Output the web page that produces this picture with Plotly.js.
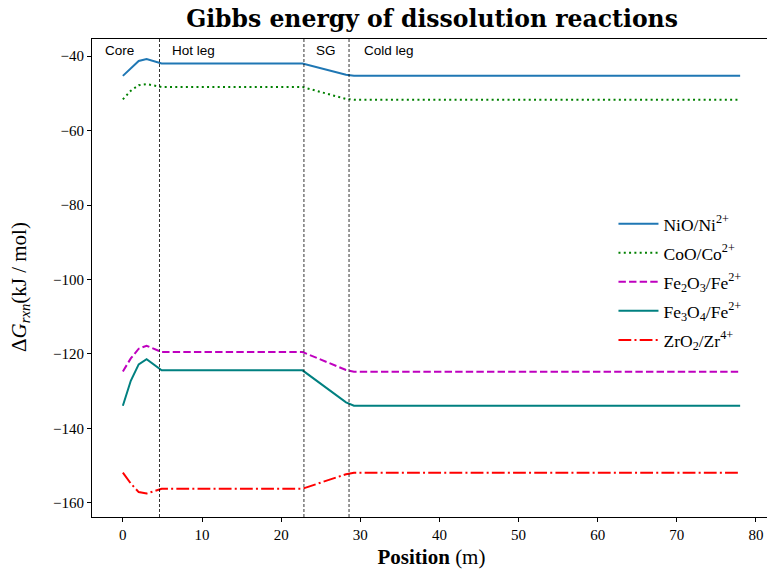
<!DOCTYPE html>
<html><head><meta charset="utf-8">
<script src="https://cdn.plot.ly/plotly-3.0.1.min.js"></script>
<style>html,body{margin:0;padding:0;background:#fff;overflow:hidden}#chart{width:772px;height:571px}</style>
</head><body><div id="chart"></div>
<script>
const positions = [0, 1, 2, 3, 4.9, 22.7, 28.2, 29.2, 78];
const nio   = [-45.3, -43.2, -41.3, -40.8, -42.0, -42.0, -45.0, -45.3, -45.3];
const coo   = [-51.6, -49.3, -47.8, -47.5, -48.3, -48.3, -51.5, -51.7, -51.7];
const fe2o3 = [-124.7, -121.2, -118.6, -117.8, -119.5, -119.5, -124.3, -124.8, -124.8];
const fe3o4 = [-133.9, -127.2, -122.8, -121.4, -124.4, -124.4, -133.0, -133.9, -133.9];
const zro2  = [-151.9, -154.8, -157.1, -157.5, -156.2, -156.2, -152.3, -151.9, -151.9];
const seriesNames = ['NiO/Ni<sup>2+</sup>', 'CoO/Co<sup>2+</sup>', 'Fe<sub>2</sub>O<sub>3</sub>/Fe<sup>2+</sup>', 'Fe<sub>3</sub>O<sub>4</sub>/Fe<sup>2+</sup>', 'ZrO<sub>2</sub>/Zr<sup>4+</sup>'];
const regionBounds = [4.63, 22.88, 28.58];
const regionLabels = ['Core', 'Hot leg', 'SG', 'Cold leg'];
const regionLabelX = [-2.5, 6.0, 24.1, 30.2];
const xTicks = [0, 10, 20, 30, 40, 50, 60, 70, 80];
const yTicks = [-40, -60, -80, -100, -120, -140, -160];

const serif = 'Liberation Serif, Times New Roman, serif';
const styles = [
  {color: '#1f77b4', dash: 'solid'},
  {color: '#008000', dash: '2px,3.3px'},
  {color: '#bf00bf', dash: '7.4px,3.2px'},
  {color: '#008080', dash: 'solid'},
  {color: '#ff0000', dash: '12.8px,3.2px,2px,3.2px'}
];
const ys = [nio, coo, fe2o3, fe3o4, zro2];
const traces = ys.map((y, i) => ({
  x: positions, y: y, type: 'scatter', mode: 'lines', name: seriesNames[i], legendgroup: 'g' + i,
  line: {color: styles[i].color, dash: styles[i].dash, width: 2}
}));

const shapes = regionBounds.map(b => ({
  type: 'line', xref: 'x', yref: 'paper', x0: b, x1: b, y0: 0, y1: 1,
  line: {color: '#000', width: 0.8, dash: '3px,2px'}
}));
const annotations = regionLabels.map((t, i) => ({
  text: t, xref: 'x', yref: 'paper', x: regionLabelX[i], y: 0.975,
  xanchor: 'left', yanchor: 'middle', showarrow: false,
  font: {family: 'Liberation Sans, Arial, sans-serif', size: 13.5, color: '#000'}
}));
annotations.push({
  text: '\u0394<i>G</i><sub><i>rxn</i></sub>(kJ / mol)', textangle: -90,
  xref: 'paper', yref: 'paper', x: -72 / 679, y: (517 - 287) / 478,
  xanchor: 'center', yanchor: 'middle', showarrow: false,
  font: {family: serif, size: 21, color: '#000'}
});

const layout = {
  width: 772, height: 571,
  margin: {l: 92, r: 1, t: 39, b: 54},
  paper_bgcolor: '#fff', plot_bgcolor: '#fff',
  title: {text: '<b>Gibbs energy of dissolution reactions</b>', font: {family: 'DejaVu Serif, serif', size: 23.5, color: '#000'},
    x: 432 / 772, xanchor: 'center', y: 1 - 19 / 571, yanchor: 'middle'},
  xaxis: {range: [-3.9, 81.9], tickvals: xTicks, ticks: 'outside', ticklen: 4, tickwidth: 1, tickcolor: '#000',
    showline: true, mirror: true, linecolor: '#000', linewidth: 1, showgrid: false, zeroline: false,
    tickfont: {family: serif, size: 15, color: '#000'},
    title: {text: '<b>Position</b> (m)', font: {family: serif, size: 21, color: '#000'}, standoff: 7}},
  yaxis: {range: [-163.8, -35.4], tickvals: yTicks, ticktext: yTicks.map(v => '\u2212' + Math.abs(v)),
    ticks: 'outside', ticklen: 4, tickwidth: 1, tickcolor: '#000',
    showline: true, mirror: true, linecolor: '#000', linewidth: 1, showgrid: false, zeroline: false,
    tickfont: {family: serif, size: 15, color: '#000'}},
  legend: {x: 0.768, y: 0.651, xanchor: 'left', yanchor: 'top', bgcolor: 'rgba(0,0,0,0)',
    font: {family: serif, size: 17.5, color: '#000'}, tracegroupgap: 3.3, itemwidth: 40},
  showlegend: true,
  shapes: shapes, annotations: annotations
};
Plotly.newPlot('chart', traces, layout, {displayModeBar: false, staticPlot: true});
</script></body></html>
